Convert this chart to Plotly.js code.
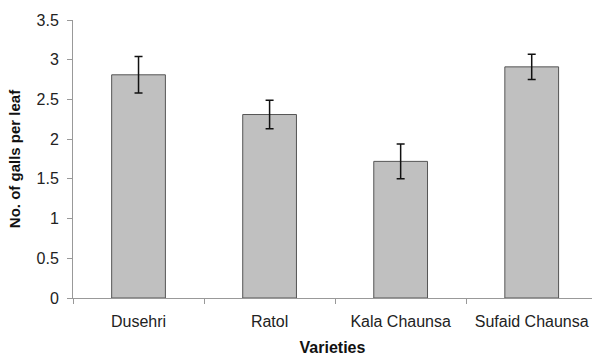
<!DOCTYPE html>
<html>
<head>
<meta charset="utf-8">
<script src="https://cdn.plot.ly/plotly-3.0.1.min.js"></script>
<style>html,body{margin:0;padding:0;background:#fff;}#chart{width:592px;height:356px;}</style>
</head>
<body>
<div id="chart"></div>
<script>
const varieties = ["Dusehri", "Ratol", "Kala Chaunsa", "Sufaid Chaunsa"];
const gallsPerLeaf = [2.81, 2.31, 1.72, 2.91];
const errorValues = [0.23, 0.18, 0.22, 0.16];
const yTickValues = [0, 0.5, 1, 1.5, 2, 2.5, 3, 3.5];
const yTickLabels = ["0", "0.5", "1", "1.5", "2", "2.5", "3", "3.5"];

const FONT = "Liberation Sans, Arial, sans-serif";

const trace = {
  type: "bar",
  x: varieties,
  y: gallsPerLeaf,
  marker: { color: "#c0c0c0", line: { color: "#555555", width: 1 } },
  error_y: { type: "data", array: errorValues, visible: true, color: "#111111", thickness: 1.5, width: 4 },
  hoverinfo: "skip"
};

const layout = {
  width: 592,
  height: 356,
  margin: { l: 73, r: 0, t: 20, b: 58 },
  paper_bgcolor: "#ffffff",
  plot_bgcolor: "#ffffff",
  bargap: 0.59,
  showlegend: false,
  font: { family: FONT, size: 16, color: "#222222" },
  xaxis: {
    type: "category",
    range: [-0.5, 3.46],
    showline: true, linecolor: "#999999", linewidth: 1,
    ticks: "outside", tickson: "boundaries", ticklen: 5, tickcolor: "#999999",
    showgrid: false, zeroline: false,
    ticklabelstandoff: 9,
    tickfont: { family: FONT, size: 16, color: "#222222" },
    title: { text: "Varieties", font: { family: FONT, size: 16, color: "#111111", weight: "bold" }, standoff: 13 }
  },
  yaxis: {
    range: [0, 3.5],
    tickvals: yTickValues, ticktext: yTickLabels,
    showline: true, linecolor: "#999999", linewidth: 1,
    ticks: "outside", ticklen: 5, tickcolor: "#999999",
    showgrid: false, zeroline: false,
    ticklabelstandoff: 5,
    tickfont: { family: FONT, size: 16, color: "#222222" },
    title: { text: "No. of galls per leaf", font: { family: FONT, size: 15, color: "#111111", weight: "bold" }, standoff: 12 }
  }
};

Plotly.newPlot("chart", [trace], layout, { displayModeBar: false, staticPlot: true });
</script>
</body>
</html>
